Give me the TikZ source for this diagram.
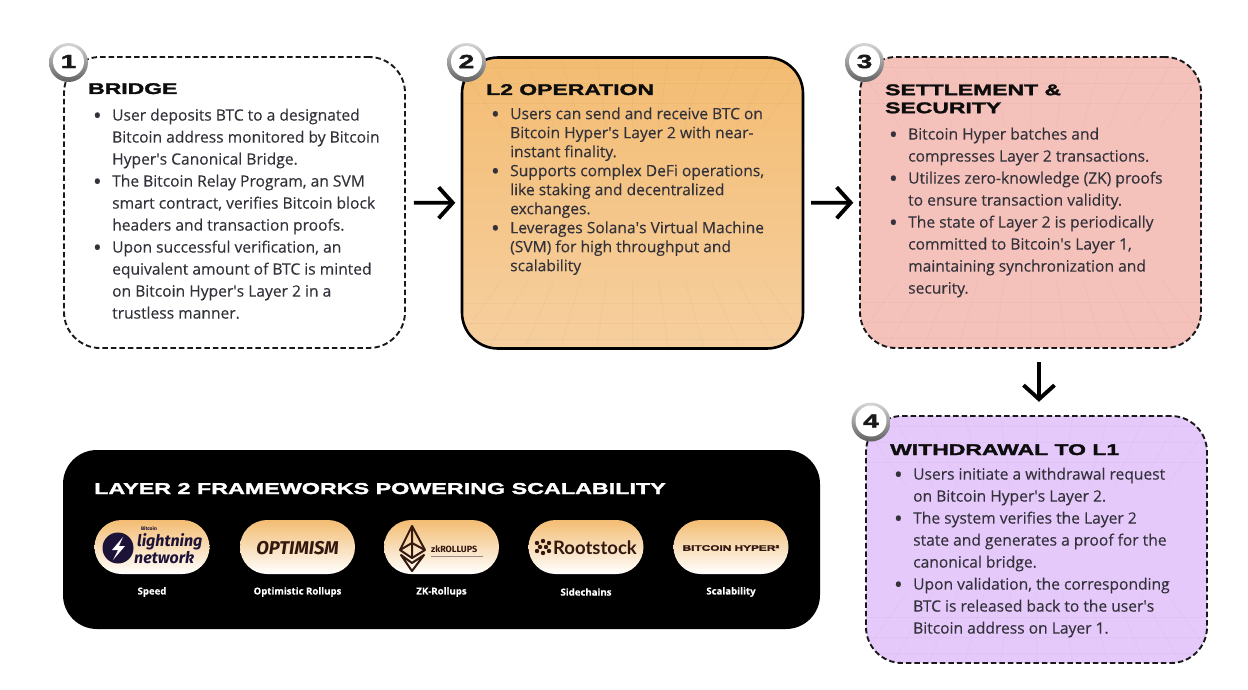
\documentclass[tikz,border=0pt]{standalone}
\usepackage{fontspec}
\usepackage{xcolor}
\usetikzlibrary{arrows.meta}
\setmainfont[FakeBold=0.25]{Open Sans}
\newfontfamily\headfont[FakeStretch=1.48,FakeBold=2]{Liberation Sans Bold}
\newfontfamily\logofont{Fira Sans}
\newfontfamily\rootfont{Lato}
\definecolor{bodyink}{HTML}{33323A}
\definecolor{orangetop}{HTML}{F3BC72}
\definecolor{orangelow}{HTML}{F6CF9F}
\definecolor{salmon}{HTML}{F5C1BB}
\definecolor{lilac}{HTML}{E6C9FB}
\definecolor{navy}{HTML}{1D1238}
\definecolor{logoink}{HTML}{33180F}
\newcommand{\bul}{\strut\llap{\raisebox{-3pt}{\fontsize{23}{22}\selectfont\textbullet}\hspace{10.5pt}}}
\newcommand{\apos}{\textquotesingle}
\newcommand{\fadegrid}[4]{%
    \begin{scope}
    \clip[rounded corners=36] (#1,#2) rectangle (#3,#4);
    \foreach \k in {-5,...,5} {
        \draw [gridline] ({(#1+#3)/2+\k*26},{#2+70}) to ({(#1+#3)/2+\k*36},{#2});
        \draw [gridline] ({(#1+#3)/2+\k*26},{#4-70}) to ({(#1+#3)/2+\k*36},{#4});
    }
    \foreach \d in {10,26,46} {
        \draw [gridline] (#1,{#2+\d}) to (#3,{#2+\d});
        \draw [gridline] (#1,{#4-\d}) to (#3,{#4-\d});
    }
    \end{scope}}
\tikzset{
    stepbox/.style={minimum width=341, minimum height=291, inner sep=0, rounded corners=36},
    dashedge/.style={draw=black!90, line width=1.9, dash pattern=on 5.5 off 3},
    gridline/.style={draw=black, opacity=0.025, line width=0.9},
    heading/.style={inner sep=0, anchor=base west, text=black!95, font=\headfont\fontsize{15.5}{18}\selectfont},
    bodytext/.style={inner sep=0, anchor=north west, align=left, text=bodyink, font=\fontsize{15.6}{22}\selectfont},
    badgeball/.style={circle, minimum size=39, inner sep=0, top color=black!16, bottom color=black!62},
    badgeface/.style={circle, minimum size=31, inner sep=0, fill=white, text=black!90, font=\headfont\fontsize{19}{19}\selectfont},
    flow/.style={line width=3.9, -{Straight Barb[length=14, width=31, line width=3.9]}},
    pill/.style={minimum width=115, minimum height=54, inner sep=0, rounded corners=27, top color=orangetop, bottom color=white},
    pillcap/.style={inner sep=0, text=white, font=\bfseries\fontsize{9.6}{12}\selectfont}
}
\begin{document}
\begin{tikzpicture}[x=1pt, y=-1pt]
    \useasboundingbox (0,0) rectangle (1248,690);

    \node[stepbox, dashedge, fill=white] (bridge) at (234.5, 202.5) {};
    \node[stepbox, top color=orangetop, bottom color=orangelow] (ops) at (632.5, 203) {};
    \fadegrid{462}{57}{803}{349}
    \node[stepbox, draw=black, line width=2.6] (opsedge) at (632.5, 203) {};
    \node[stepbox, fill=salmon] (settle) at (1030.5, 202.5) {};
    \fadegrid{860}{57}{1201}{348}
    \node[stepbox, dashedge] (settleedge) at (1030.5, 202.5) {};
    \node[stepbox, minimum height=247, fill=lilac] (withdraw) at (1036.5, 539.5) {};
    \fadegrid{866}{416}{1207}{663}
    \node[stepbox, minimum height=247, dashedge] (withdrawedge) at (1036.5, 539.5) {};

    \node[badgeball] (ball1) at (68.5, 62.5) {};
    \node[badgeface] (num1) at (68.5, 61.5) {1};
    \node[badgeball] (ball2) at (466.5, 62.5) {};
    \node[badgeface] (num2) at (466.5, 61.5) {2};
    \node[badgeball] (ball3) at (864.5, 62.5) {};
    \node[badgeface] (num3) at (864.5, 61.5) {3};
    \node[badgeball] (ball4) at (871, 422) {};
    \node[badgeface] (num4) at (871, 421) {4};

    \node[heading] (head1) at (88, 94) {BRIDGE};
    \node[heading] (head2) at (486, 95) {L2 OPERATION};
    \node[heading, anchor=north west, align=left] (head3) at (885, 82.4) {\strut SETTLEMENT \&\\\strut SECURITY};
    \node[heading] (head4) at (890, 455) {WITHDRAWAL TO L1};

    \node[bodytext] (text1) at (112, 105) {\bul User deposits BTC to a designated\\Bitcoin address monitored by Bitcoin\\Hyper\apos s Canonical Bridge.\\\bul The Bitcoin Relay Program, an SVM\\smart contract, verifies Bitcoin block\\headers and transaction proofs.\\\bul Upon successful verification, an\\equivalent amount of BTC is minted\\on Bitcoin Hyper\apos s Layer 2 in a\\trustless manner.};
    \node[bodytext, font=\fontsize{15.6}{19}\selectfont] (text2) at (510, 105.7) {\bul Users can send and receive BTC on\\Bitcoin Hyper\apos s Layer 2 with near-\\instant finality.\\\bul Supports complex DeFi operations,\\like staking and decentralized\\exchanges.\\\bul Leverages Solana\apos s Virtual Machine\\(SVM) for high throughput and\\scalability};
    \node[bodytext] (text3) at (908, 124) {\bul Bitcoin Hyper batches and\\compresses Layer 2 transactions.\\\bul Utilizes zero-knowledge (ZK) proofs\\to ensure transaction validity.\\\bul The state of Layer 2 is periodically\\committed to Bitcoin\apos s Layer 1,\\maintaining synchronization and\\security.};
    \node[bodytext] (text4) at (913, 464) {\bul Users initiate a withdrawal request\\on Bitcoin Hyper\apos s Layer 2.\\\bul The system verifies the Layer 2\\state and generates a proof for the\\canonical bridge.\\\bul Upon validation, the corresponding\\BTC is released back to the user\apos s\\Bitcoin address on Layer 1.};

    \draw [flow, shorten <=8, shorten >=6.5] (bridge) to (ops);
    \draw [flow, shorten <=8, shorten >=6.5] (ops) to (settle);
    \draw [flow, shorten <=14, shorten >=14] ([xshift=8.5]settle.south) to ([xshift=2.5]withdraw.north);

    \node[fill=black, minimum width=757, minimum height=179, inner sep=0, rounded corners=34] (panel) at (441.5, 539.5) {};
    \node[heading, text=white, font=\headfont\fontsize{15.75}{20}\selectfont] (paneltitle) at (94, 494) {LAYER 2 FRAMEWORKS POWERING SCALABILITY};

    \node[pill] (pill1) at (152, 547) {};
    \node[pill] (pill2) at (297.5, 547) {};
    \node[pill] (pill3) at (441.5, 547) {};
    \node[pill] (pill4) at (586, 547) {};
    \node[pill] (pill5) at (731, 547) {};
    \node[pillcap] (cap1) at (152, 592) {Speed};
    \node[pillcap] (cap2) at (297.5, 592) {Optimistic Rollups};
    \node[pillcap] (cap3) at (441.5, 592) {ZK-Rollups};
    \node[pillcap] (cap4) at (586, 592) {Sidechains};
    \node[pillcap] (cap5) at (731, 592) {Scalability};

    \node[circle, fill=navy, minimum size=31, inner sep=0] (boltdisc) at (118, 548) {};
    \fill [white] (123,537) -- (112,550) -- (118,550) -- (113,560) -- (125,546) -- (119,546) -- cycle;
    \node[inner sep=0, text=navy, font=\logofont\bfseries\fontsize{5}{5}\selectfont] (lnbitcoin) at (149, 529) {Bitcoin};
    \node[inner sep=0, anchor=base west, text=navy, font=\logofont\itshape\bfseries\fontsize{16}{16}\selectfont] (lnone) at (137, 546) {lightning};
    \node[inner sep=0, anchor=base west, text=navy, font=\logofont\itshape\bfseries\fontsize{16}{16}\selectfont] (lntwo) at (134, 563) {network};

    \node[inner sep=0, text=logoink, font=\logofont\itshape\bfseries\fontsize{18.5}{20}\selectfont] (optimism) at (297.5, 548) {OPTIMISM};

    \draw [logoink, line width=2, line join=round] (412,526) -- (425,550) -- (412,558) -- (400,550) -- cycle;
    \draw [logoink, line width=2, line join=round] (400,550) -- (412,543) -- (425,550) (412,526) -- (412,558);
    \draw [logoink, line width=2, line join=round] (401,555) -- (412,571) -- (424,555) -- (412,563) -- cycle;
    \node[inner sep=0, anchor=base west, text=logoink, font=\logofont\bfseries\fontsize{9}{10}\selectfont] (zkname) at (431, 552) {zkROLLUPS};
    \draw [logoink!50, line width=0.9] (431,556) -- (483,556);

    \foreach \x/\y in {537/543, 543/541, 549/543, 540/547, 546/547, 537/551, 543/553, 549/551} {
        \fill [logoink] (\x,\y) circle (2.2);
    }
    \node[inner sep=0, anchor=base west, text=logoink, font=\rootfont\bfseries\fontsize{18.5}{20}\selectfont] (rootstock) at (553, 554) {Rootstock};

    \node[inner sep=0, text=logoink, font=\headfont\fontsize{8}{10}\selectfont] (hyper) at (731, 548) {BITCOIN HYPER²};
\end{tikzpicture}
\end{document}
